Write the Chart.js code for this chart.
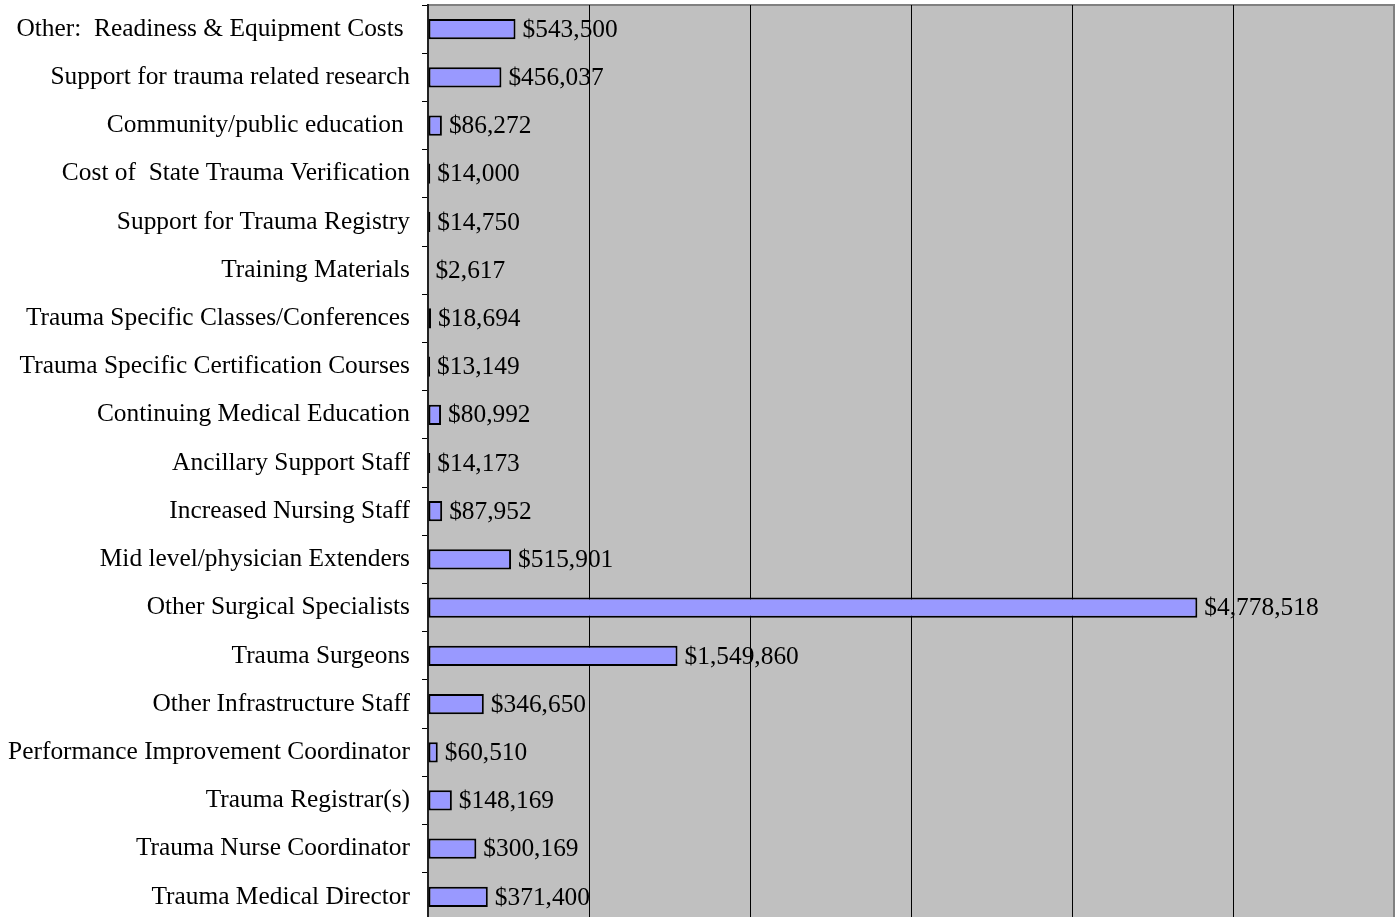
<!DOCTYPE html>
<html>
<head>
<meta charset="utf-8">
<script src="https://cdn.jsdelivr.net/npm/chart.js@4/dist/chart.umd.min.js"></script>
<style>
  html, body { margin: 0; padding: 0; background: #fff; overflow: hidden; }
  #wrap { position: relative; width: 1400px; height: 921px; }
</style>
</head>
<body>
<div id="wrap"><canvas id="costs"></canvas></div>
<script>
const categories = [
  "Other:  Readiness & Equipment Costs ",
  "Support for trauma related research",
  "Community/public education ",
  "Cost of  State Trauma Verification",
  "Support for Trauma Registry",
  "Training Materials",
  "Trauma Specific Classes/Conferences",
  "Trauma Specific Certification Courses",
  "Continuing Medical Education",
  "Ancillary Support Staff",
  "Increased Nursing Staff",
  "Mid level/physician Extenders",
  "Other Surgical Specialists",
  "Trauma Surgeons",
  "Other Infrastructure Staff",
  "Performance Improvement Coordinator",
  "Trauma Registrar(s)",
  "Trauma Nurse Coordinator",
  "Trauma Medical Director"
];
const costs = [
  543500, 456037, 86272, 14000, 14750, 2617, 18694, 13149, 80992, 14173,
  87952, 515901, 4778518, 1549860, 346650, 60510, 148169, 300169, 371400
];
const axisMax = 6000000;
const axisStep = 1000000;

const FONT = { family: "'Liberation Serif', 'Times New Roman', serif", size: 25.4 };

// gray plot area with darker top/right edge
const plotArea = {
  id: "plotArea",
  beforeDraw(chart) {
    const { ctx, chartArea: a } = chart;
    ctx.save();
    ctx.fillStyle = "#c0c0c0";
    ctx.fillRect(a.left, a.top, a.right - a.left, a.bottom - a.top);
    ctx.strokeStyle = "#808080";
    ctx.lineWidth = 2;
    ctx.beginPath();
    ctx.moveTo(a.left, a.top);
    ctx.lineTo(a.right, a.top);
    ctx.lineTo(a.right, a.bottom);
    ctx.stroke();
    ctx.restore();
  }
};

const money = (v) => "$" + v.toLocaleString("en-US");

const valueLabels = {
  id: "valueLabels",
  afterDatasetsDraw(chart) {
    const { ctx } = chart;
    const meta = chart.getDatasetMeta(0);
    ctx.save();
    ctx.font = FONT.size + "px " + FONT.family;
    ctx.fillStyle = "#000";
    ctx.textAlign = "left";
    ctx.textBaseline = "middle";
    meta.data.forEach((bar, i) => {
      ctx.fillText(money(costs[i]), bar.x + 7, bar.y + 1);
    });
    ctx.restore();
  }
};

const noPad = (s) => { s.paddingTop = 0; s.paddingBottom = 0; s.paddingLeft = 0; s.paddingRight = 0; };

new Chart(document.getElementById("costs"), {
  type: "bar",
  data: {
    labels: categories,
    datasets: [{
      data: costs,
      backgroundColor: "#9999ff",
      borderColor: "#000",
      borderWidth: 2,
      borderSkipped: false,
      barPercentage: 0.42,
      categoryPercentage: 1
    }]
  },
  options: {
    indexAxis: "y",
    responsive: true,
    maintainAspectRatio: false,
    animation: false,
    layout: { padding: { top: 5, right: 6, bottom: 0, left: 0 } },
    plugins: { legend: { display: false }, tooltip: { enabled: false } },
    scales: {
      x: {
        min: 0,
        max: axisMax,
        ticks: { display: false, stepSize: axisStep },
        grid: {
          drawTicks: false,
          color: (c) => (c.tick && (c.tick.value === 0 || c.tick.value === axisMax)) ? "rgba(0,0,0,0)" : "#000",
          lineWidth: 1
        },
        border: { display: false },
        afterFit: (s) => { s.height = 0; noPad(s); }
      },
      y: {
        ticks: { color: "#000", font: FONT, padding: 12, autoSkip: false },
        grid: { drawOnChartArea: false, drawTicks: true, tickLength: 6, color: "#000", offset: true },
        border: { display: true, color: "#222", width: 2 },
        afterFit: (s) => { s.width = 428; noPad(s); }
      }
    }
  },
  plugins: [plotArea, valueLabels]
});
</script>
</body>
</html>
